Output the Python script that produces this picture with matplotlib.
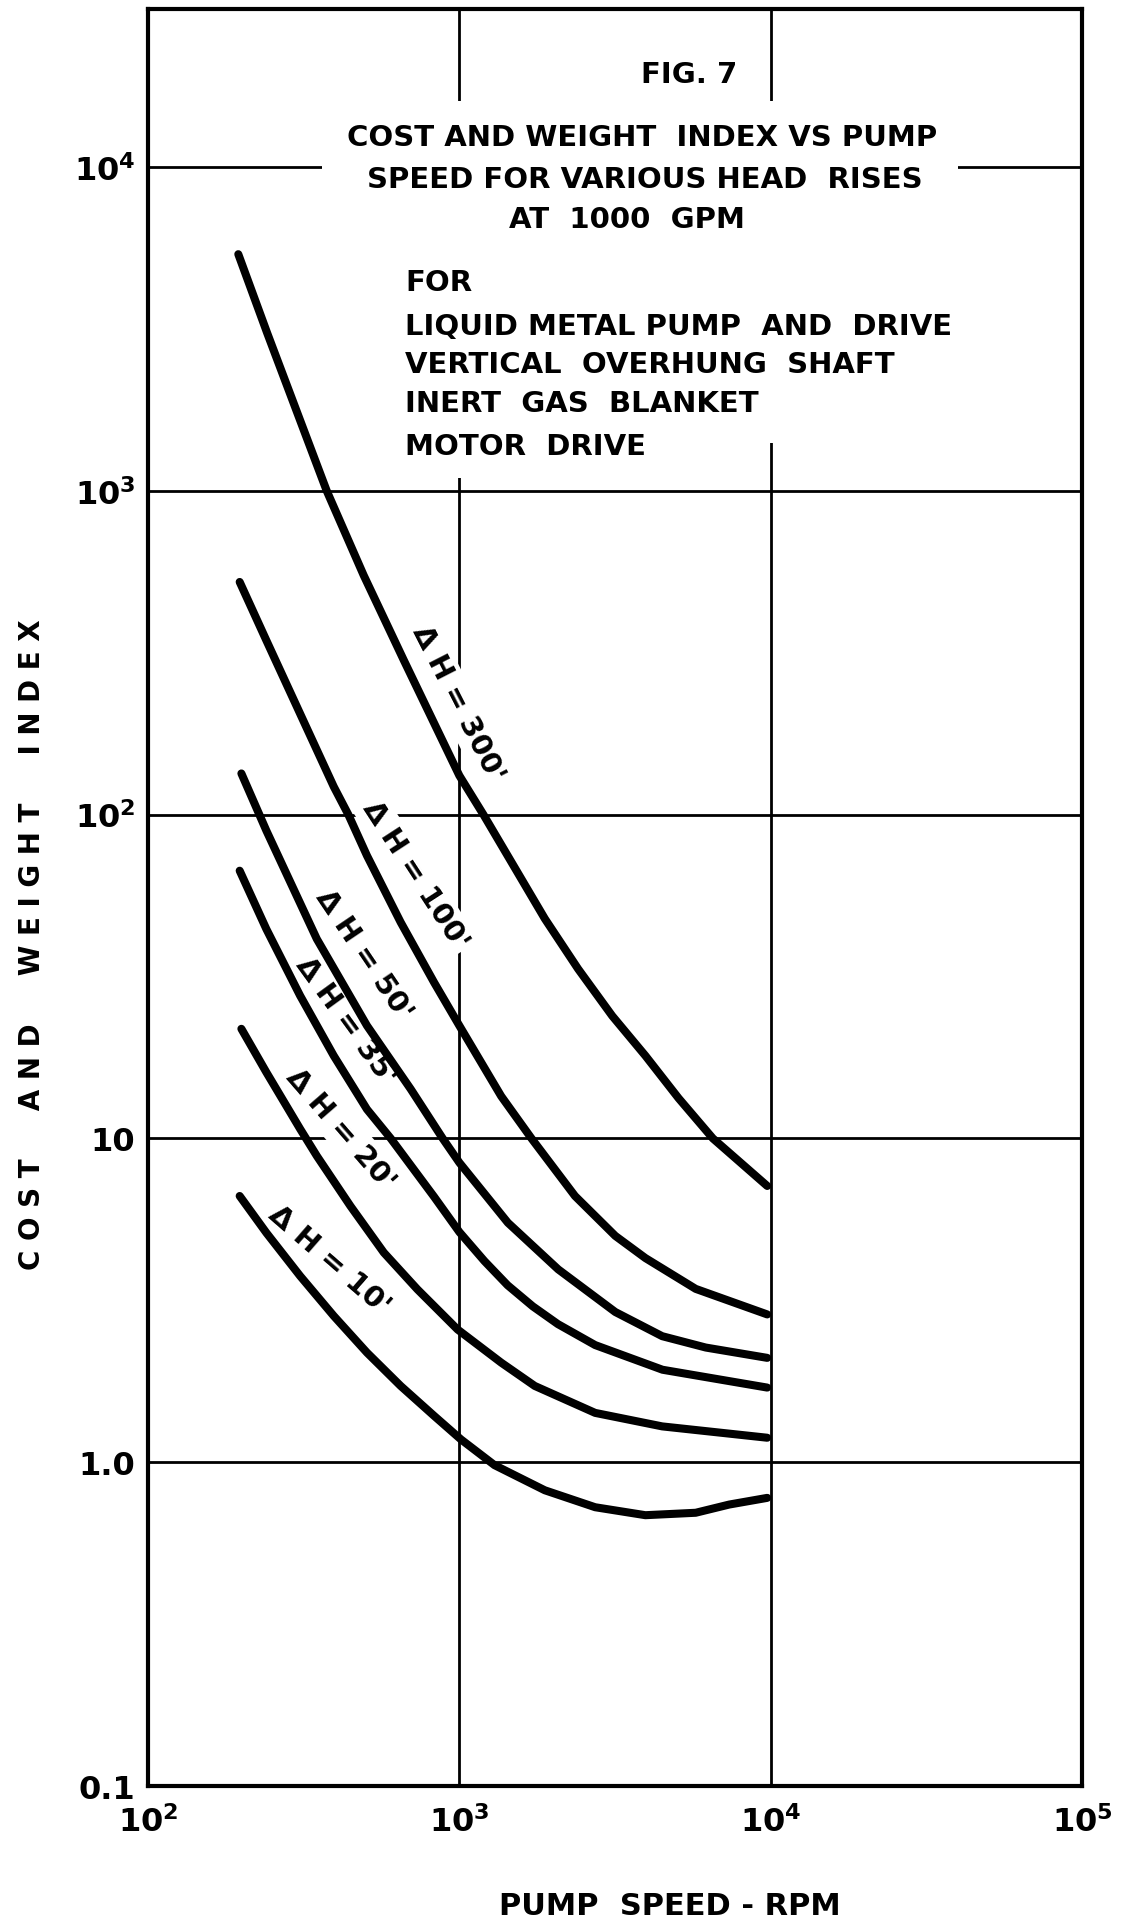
import matplotlib
matplotlib.use("Agg")
import matplotlib.pyplot as plt
from matplotlib.patches import Rectangle

# pump speed (rpm) and cost / weight index, one pair per head rise
rpm_300 = [195, 241.5, 302, 375, 493, 664, 1000, 1195, 1882, 2406, 3098, 3960, 5063, 6521, 9750]
idx_300 = [5380, 3069, 1736, 1000, 548, 299, 132, 100, 47.7, 33.4, 23.9, 18.0, 13.3, 10.0, 7.13]

rpm_100 = [197, 240, 308, 395, 440, 505, 648, 830, 1000, 1363, 1705, 2352, 3169, 3960, 5744, 9750]
idx_100 = [523, 345, 205, 122, 100, 74.7, 46.5, 30.3, 22.3, 13.5, 10.0, 6.64, 5.0, 4.27, 3.43, 2.86]

rpm_50 = [199.5, 240, 348.5, 505, 698, 884, 1000, 1432, 2078, 3169, 4484, 6189, 9750]
idx_50 = [134, 89.2, 41.3, 22.3, 14.2, 10.0, 8.42, 5.49, 3.94, 2.91, 2.45, 2.26, 2.10]

rpm_35 = [197, 240, 308, 395, 505, 602, 830, 1000, 1204, 1429, 1721, 2073, 2731, 4494, 9750]
idx_35 = [67.1, 44.3, 27.6, 18.0, 12.3, 10.0, 6.60, 5.14, 4.18, 3.52, 3.03, 2.67, 2.30, 1.93, 1.70]

rpm_20 = [199.5, 240, 308, 348.5, 447, 572, 733, 987, 1363, 1747, 2731, 4484, 9750]
idx_20 = [21.8, 16.0, 10.7, 8.83, 6.18, 4.44, 3.42, 2.57, 2.03, 1.72, 1.42, 1.29, 1.19]

rpm_10 = [197, 240, 308, 395, 505, 648, 830, 1013, 1298, 1882, 2731, 3960, 5744, 7360, 9750]
idx_10 = [6.64, 5.11, 3.76, 2.83, 2.18, 1.72, 1.39, 1.175, 0.979, 0.819, 0.726, 0.686, 0.698, 0.740, 0.776]

curves = [(rpm_300, idx_300), (rpm_100, idx_100), (rpm_50, idx_50),
          (rpm_35, idx_35), (rpm_20, idx_20), (rpm_10, idx_10)]

head_labels = ["300'", "100'", "50'", "35'", "20'", "10'"]
# where each "delta H" tag sits (rpm, index) and its slant
label_rpm = [989, 721, 493, 431, 416, 381]
label_idx = [221, 65.2, 37.0, 23.1, 10.7, 4.24]
label_rot = [-63, -57, -56, -54, -49, -41]

xticks = [1e2, 1e3, 1e4, 1e5]
xtick_labels = [r"$\mathbf{10^{2}}$", r"$\mathbf{10^{3}}$",
                r"$\mathbf{10^{4}}$", r"$\mathbf{10^{5}}$"]
yticks = [0.1, 1, 10, 100, 1000, 10000]
ytick_labels = ["0.1", "1.0", "10", r"$\mathbf{10^{2}}$",
                r"$\mathbf{10^{3}}$", r"$\mathbf{10^{4}}$"]

W, H = 1134, 1924
plt.rcParams["font.family"] = "DejaVu Sans"
plt.rcParams["font.weight"] = "bold"


def fx(px):
    return px / W


def fy(py):
    return 1 - py / H


fig = plt.figure(figsize=(W / 100, H / 100), dpi=100)
ax = fig.add_axes([fx(148), 137 / H, 934 / W, 1777 / H])
ax.set_xscale("log")
ax.set_yscale("log")
ax.set_xlim(1e2, 1e5)
ax.set_ylim(0.1, 10 ** 4.488)

for s in ax.spines.values():
    s.set_linewidth(3)

# hand drawn grid, decades only
for y in [1, 10, 100, 1000, 10000]:
    ax.axhline(y, color="black", lw=2, zorder=1)
for x in [1e3, 1e4]:
    ax.axvline(x, color="black", lw=2, zorder=1)

# blank patch behind the title block (grid is broken there)
ax.add_patch(Rectangle((0.1863, 0.7558), 0.6809, 0.1924, transform=ax.transAxes,
                       facecolor="white", edgecolor="none", zorder=1.5))
ax.add_patch(Rectangle((0.2698, 0.7361), 0.2782, 0.0200, transform=ax.transAxes,
                       facecolor="white", edgecolor="none", zorder=1.5))

for rpm, idx in curves:
    ax.plot(rpm, idx, color="black", lw=5.8, solid_capstyle="round",
            solid_joinstyle="round", zorder=3)

for lab, n, c, r in zip(head_labels, label_rpm, label_idx, label_rot):
    ax.text(n, c, "\u0394 H = " + lab, rotation=r, rotation_mode="anchor",
            ha="center", va="center", fontsize=21, fontweight="bold", zorder=2.5,
            bbox=dict(facecolor="white", edgecolor="none", pad=3))

ax.minorticks_off()
ax.set_xticks(xticks)
ax.set_xticklabels(xtick_labels)
ax.set_yticks(yticks)
ax.set_yticklabels(ytick_labels)
ax.tick_params(axis="x", length=0, pad=14, labelsize=23)
ax.tick_params(axis="y", length=0, pad=9, labelsize=23)

# title block
fig.text(fx(689), fy(75), "FIG. 7", ha="center", va="center", fontsize=21)
fig.text(fx(642), fy(138), "COST AND WEIGHT  INDEX VS PUMP", ha="center", va="center", fontsize=21)
fig.text(fx(645), fy(180), "SPEED FOR VARIOUS HEAD  RISES", ha="center", va="center", fontsize=21)
fig.text(fx(627), fy(220), "AT  1000  GPM", ha="center", va="center", fontsize=21)

notes = ["FOR", "LIQUID METAL PUMP  AND  DRIVE", "VERTICAL  OVERHUNG  SHAFT",
         "INERT  GAS  BLANKET", "MOTOR  DRIVE"]
for t, py in zip(notes, [283, 327, 365, 404, 447]):
    fig.text(fx(405), fy(py), t, ha="left", va="center", fontsize=21)

fig.text(fx(32), fy(945), "C O S T     A N D     W E I G H T     I N D E X",
         rotation=90, ha="center", va="center", fontsize=20)
fig.text(fx(670), fy(1907), "PUMP  SPEED - RPM", ha="center", va="center", fontsize=22)

fig.savefig("out.png", dpi=100, facecolor="white")
